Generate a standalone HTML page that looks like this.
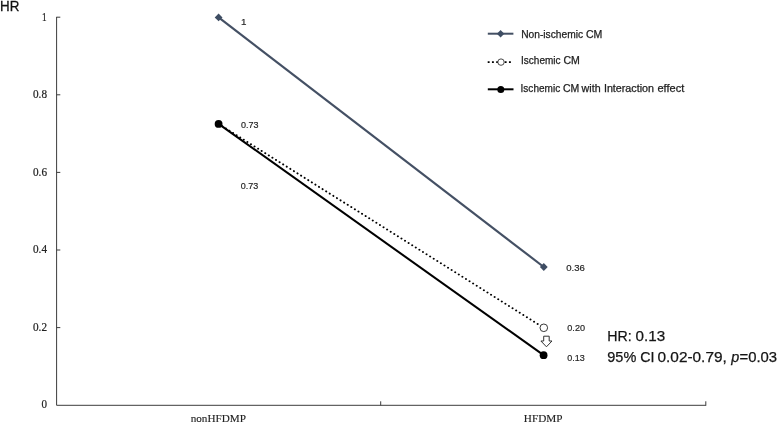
<!DOCTYPE html>
<html lang="en">
<head>
<meta charset="utf-8">
<title>HR interaction chart</title>
<style>
html,body{margin:0;padding:0;background:#fff;}
body{width:778px;height:423px;overflow:hidden;}
svg{display:block;}
.sans{font-family:"Liberation Sans",Arial,sans-serif;}
.serif{font-family:"Liberation Serif","Times New Roman",serif;}
</style>
</head>
<body>
<svg width="778" height="423" viewBox="0 0 778 423">
<rect width="778" height="423" fill="#ffffff"/>

<!-- axes -->
<g stroke="#3c3c3c" stroke-width="1" fill="none" shape-rendering="auto">
  <path d="M56.6 16.9 V405.3 H705.8"/>
  <path d="M56.6 17.2 H60.3 M56.6 94.8 H60.3 M56.6 172.4 H60.3 M56.6 250 H60.3 M56.6 327.6 H60.3"/>
  <path d="M380.7 405.3 V401.3 M705.8 405.8 V401.3"/>
</g>

<!-- y tick labels -->
<g class="serif" font-size="12" fill="#222" stroke="#222" stroke-width="0.22">
  <text x="42" y="20.8" textLength="4.6" lengthAdjust="spacingAndGlyphs">1</text>
  <text x="33" y="98.2" textLength="14" lengthAdjust="spacingAndGlyphs">0.8</text>
  <text x="33" y="175.8" textLength="14" lengthAdjust="spacingAndGlyphs">0.6</text>
  <text x="33" y="253.4" textLength="14" lengthAdjust="spacingAndGlyphs">0.4</text>
  <text x="33" y="331" textLength="14" lengthAdjust="spacingAndGlyphs">0.2</text>
  <text x="41.6" y="408.3" textLength="5.5" lengthAdjust="spacingAndGlyphs">0</text>
</g>

<!-- x labels -->
<g class="serif" font-size="11" fill="#222" stroke="#222" stroke-width="0.12">
  <text x="190.7" y="421.6" textLength="55.2" lengthAdjust="spacingAndGlyphs">nonHFDMP</text>
  <text x="523.8" y="421.6" textLength="38.7" lengthAdjust="spacingAndGlyphs">HFDMP</text>
</g>

<!-- axis title -->
<text class="sans" x="0.1" y="11.1" font-size="15" fill="#111" stroke="#111" stroke-width="0.3" textLength="19.3" lengthAdjust="spacingAndGlyphs">HR</text>

<!-- series: Non-ischemic CM -->
<line x1="218.6" y1="17.4" x2="543.8" y2="267" stroke="#445064" stroke-width="2.15"/>
<path d="M218.6 13.5 L222.5 17.4 L218.6 21.3 L214.7 17.4 Z" fill="#3e4d63"/>
<path d="M543.8 263.1 L547.7 267 L543.8 270.9 L539.9 267 Z" fill="#3e4d63"/>

<!-- series: Ischemic CM (dotted) -->
<line x1="218.6" y1="123.9" x2="543.8" y2="327.8" stroke="#000" stroke-width="1.85" stroke-linecap="round" stroke-dasharray="0.2 4.03"/>
<circle cx="543.8" cy="327.8" r="3.8" fill="#fff" stroke="#3a3a3a" stroke-width="1"/>

<!-- series: Ischemic CM with interaction -->
<line x1="218.6" y1="123.9" x2="543.6" y2="355.2" stroke="#000" stroke-width="2.05"/>
<circle cx="218.6" cy="123.9" r="3.9" fill="#000"/>
<circle cx="543.6" cy="355.2" r="3.9" fill="#000"/>

<!-- arrow -->
<path d="M543.7 336.2 H549.2 V341 H552 L546.45 346.8 L540.9 341 H543.7 Z" fill="#fff" stroke="#333" stroke-width="1" stroke-linejoin="miter"/>

<!-- data labels -->
<g class="sans" font-size="9.8" fill="#262626" stroke="#262626" stroke-width="0.2">
  <text x="241" y="24.9">1</text>
  <text x="241" y="127.9" textLength="17.5" lengthAdjust="spacingAndGlyphs">0.73</text>
  <text x="240.7" y="189" textLength="17.5" lengthAdjust="spacingAndGlyphs">0.73</text>
  <text x="566.2" y="270.7" textLength="18.6" lengthAdjust="spacingAndGlyphs">0.36</text>
  <text x="567.3" y="331" textLength="17.7" lengthAdjust="spacingAndGlyphs">0.20</text>
  <text x="567.3" y="361.3" textLength="17.5" lengthAdjust="spacingAndGlyphs">0.13</text>
</g>

<!-- legend -->
<line x1="487.8" y1="33.7" x2="513.4" y2="33.7" stroke="#445064" stroke-width="2"/>
<path d="M500.6 30 L504.3 33.7 L500.6 37.4 L496.9 33.7 Z" fill="#3e4d63"/>
<line x1="487.7" y1="62.1" x2="512" y2="62.1" stroke="#000" stroke-width="1.8" stroke-dasharray="1.9 2.35"/>
<circle cx="501" cy="62.1" r="3.2" fill="#fff" stroke="#333" stroke-width="0.9"/>
<line x1="487.8" y1="89.3" x2="513.5" y2="89.3" stroke="#000" stroke-width="2"/>
<circle cx="500.8" cy="89.5" r="3.5" fill="#000"/>
<g class="sans" font-size="10.2" fill="#1e1e1e" stroke="#1e1e1e" stroke-width="0.25">
  <text y="38.4"><tspan x="521.16" textLength="61.91" lengthAdjust="spacingAndGlyphs">Non-ischemic</tspan> <tspan x="585.96" textLength="16.4" lengthAdjust="spacingAndGlyphs">CM</tspan></text>
  <text y="63.6"><tspan x="521.08" textLength="39.38" lengthAdjust="spacingAndGlyphs">Ischemic</tspan> <tspan x="563.46" textLength="16.4" lengthAdjust="spacingAndGlyphs">CM</tspan></text>
  <text y="92.1"><tspan x="520.57" textLength="39.59" lengthAdjust="spacingAndGlyphs">Ischemic</tspan> <tspan x="562.97" textLength="16.29" lengthAdjust="spacingAndGlyphs">CM</tspan> <tspan x="581.62" textLength="18.98" lengthAdjust="spacingAndGlyphs">with</tspan> <tspan x="603.91" textLength="50.09" lengthAdjust="spacingAndGlyphs">Interaction</tspan> <tspan x="657.43" textLength="26.85" lengthAdjust="spacingAndGlyphs">effect</tspan></text>
</g>

<!-- annotation -->
<g class="sans" font-size="14.4" fill="#151515" stroke="#151515" stroke-width="0.25">
  <text y="341.3"><tspan x="607.33" textLength="24.46" lengthAdjust="spacingAndGlyphs">HR:</tspan> <tspan x="635.61" textLength="29.56" lengthAdjust="spacingAndGlyphs">0.13</tspan></text>
  <text y="361.5"><tspan x="607.32" textLength="29.0" lengthAdjust="spacingAndGlyphs">95%</tspan> <tspan x="640.28" textLength="14.24" lengthAdjust="spacingAndGlyphs">CI</tspan> <tspan x="657.5" textLength="69.28" lengthAdjust="spacingAndGlyphs">0.02-0.79,</tspan> <tspan x="731.36" textLength="8.01" lengthAdjust="spacingAndGlyphs" font-style="italic">p</tspan><tspan x="739.57" textLength="37.58" lengthAdjust="spacingAndGlyphs">=0.03</tspan></text>
</g>
</svg>
</body>
</html>
